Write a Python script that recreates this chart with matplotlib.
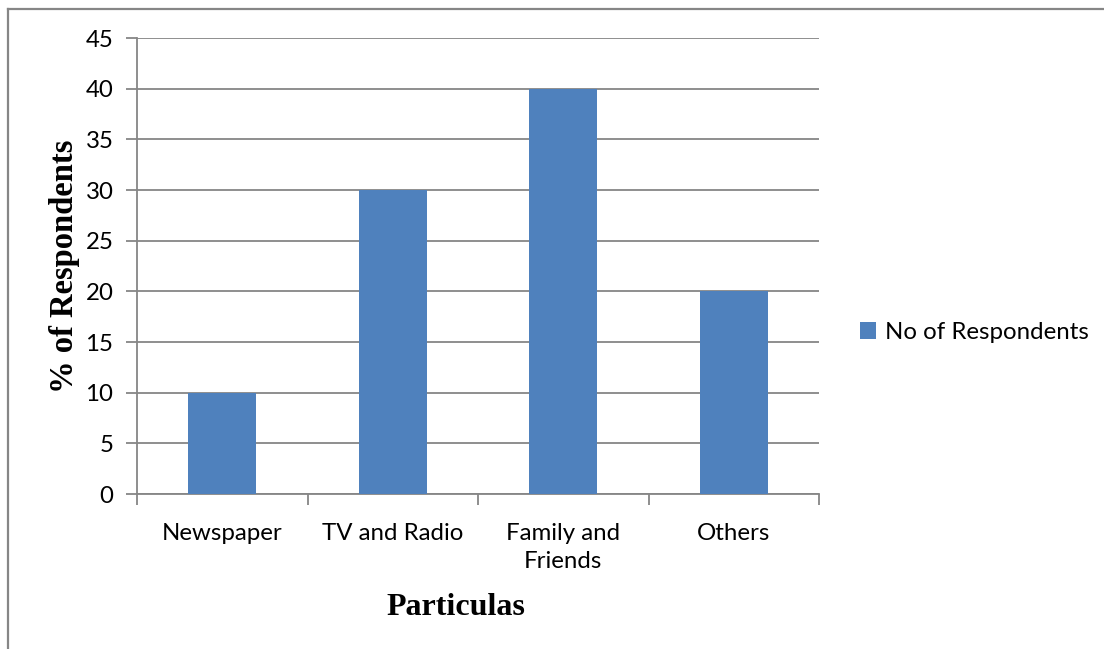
import matplotlib.pyplot as plt
from matplotlib.lines import Line2D
from matplotlib.patches import Patch

categories = ["Newspaper", "TV and Radio", "Family and\nFriends", "Others"]
respondents = [10, 30, 40, 20]
yticks = [0, 5, 10, 15, 20, 25, 30, 35, 40, 45]

bar_color = "#4F81BD"
line_color = "#868686"
tick_font = "Lato"
tick_size = 17.3

fig = plt.figure(figsize=(11.04, 6.49), dpi=100)
ax = fig.add_axes([0.1241, 0.2388, 0.6178, 0.7026])

x = list(range(len(categories)))
ax.bar(x, respondents, width=0.4, color=bar_color, zorder=3,
       label="No of Respondents")

ax.set_xlim(-0.5, len(categories) - 0.5)
ax.set_ylim(0, 45)
ax.set_yticks(yticks)
ax.set_yticklabels([str(v) for v in yticks], fontsize=tick_size, fontfamily=tick_font)
ax.yaxis.grid(True, color=line_color, linewidth=1.3, zorder=0)

# category labels centred on bars, tick marks on the boundaries
ax.set_xticks(x)
ax.set_xticklabels(categories, fontsize=tick_size, fontfamily=tick_font,
                   linespacing=1.4, verticalalignment="top")
ax.tick_params(axis="x", length=0, pad=21)
ax.set_xticks([i - 0.5 for i in range(len(categories) + 1)], minor=True)
ax.tick_params(axis="x", which="minor", length=8, width=1.3, color=line_color)
ax.tick_params(axis="y", length=8, width=1.3, color=line_color, pad=9)

for side in ["top", "right"]:
    ax.spines[side].set_visible(False)
for side in ["left", "bottom"]:
    ax.spines[side].set_color(line_color)
    ax.spines[side].set_linewidth(1.3)

ax.set_ylabel("% of Respondents", fontsize=23.5, fontweight="bold",
              fontfamily="Liberation Serif", labelpad=4)
fig.text(0.4125, 0.0635, "Particulas", fontsize=23, fontweight="bold",
         fontfamily="Liberation Serif", ha="center", va="center")

handle = Patch(facecolor=bar_color, edgecolor="none")
fig.legend([handle], ["No of Respondents"], loc="center left",
           bbox_to_anchor=(0.759, 0.4875), frameon=False,
           prop={"family": tick_font, "size": tick_size},
           handlelength=0.7, handleheight=0.7, handletextpad=0.35)

# outer chart frame (top and left edges)
fig.add_artist(Line2D([0.0075, 1.0], [0.9865, 0.9865], color=line_color,
                      linewidth=1.6, transform=fig.transFigure))
fig.add_artist(Line2D([0.0075, 0.0075], [0.0, 0.9865], color=line_color,
                      linewidth=1.6, transform=fig.transFigure))

fig.savefig("out.png", dpi=100, facecolor="white")
